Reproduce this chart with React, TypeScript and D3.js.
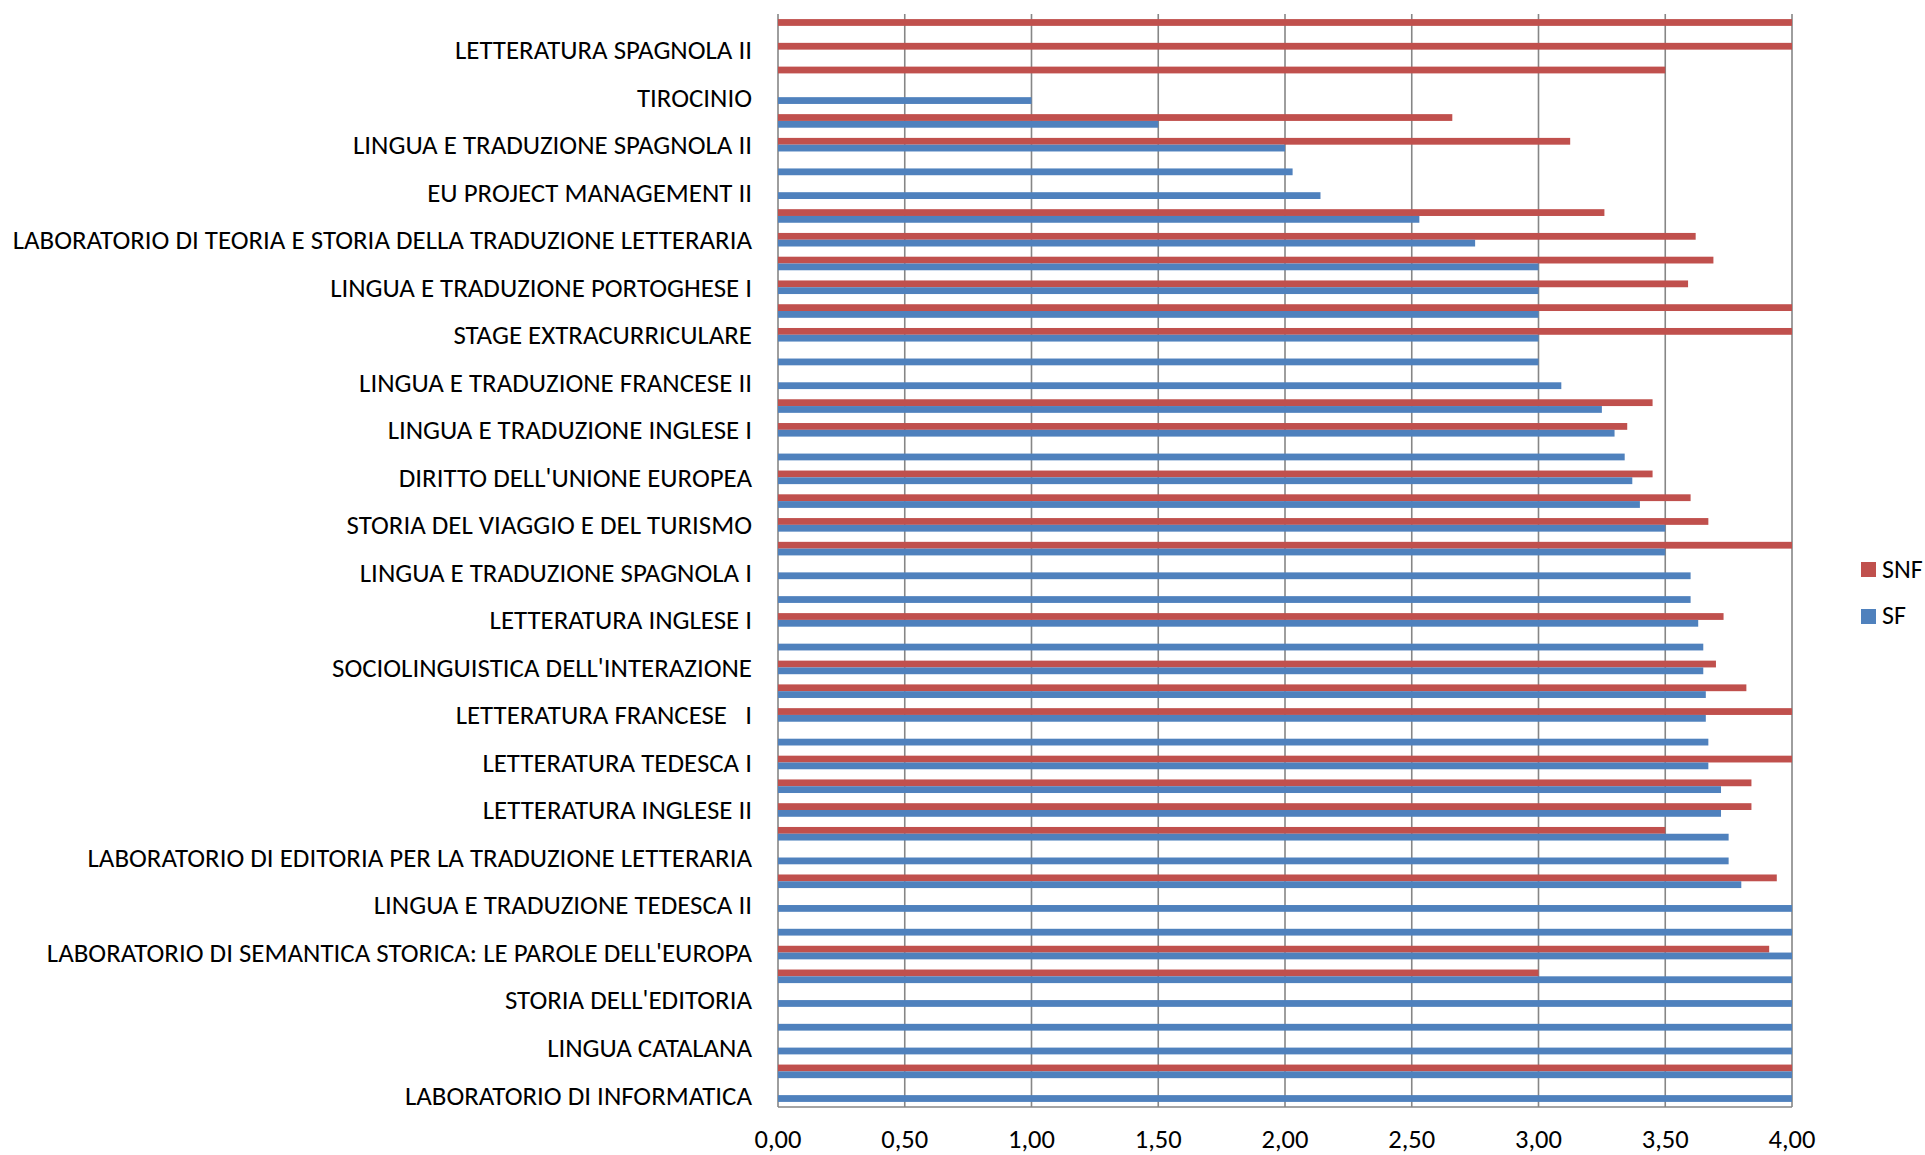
import React from "react";
import * as d3 from "d3";

// Categories from bottom (index 0) to top (index 45). Only every other label is shown in the
// reference (Excel skips labels); unreadable ones are left empty.
const categories: string[] = [
  "LABORATORIO DI INFORMATICA", "",
  "LINGUA CATALANA", "",
  "STORIA DELL'EDITORIA", "",
  "LABORATORIO DI SEMANTICA STORICA: LE PAROLE DELL'EUROPA", "",
  "LINGUA E TRADUZIONE TEDESCA II", "",
  "LABORATORIO DI EDITORIA PER LA TRADUZIONE LETTERARIA", "",
  "LETTERATURA INGLESE II", "",
  "LETTERATURA TEDESCA I", "",
  "LETTERATURA FRANCESE   I", "",
  "SOCIOLINGUISTICA DELL'INTERAZIONE", "",
  "LETTERATURA INGLESE I", "",
  "LINGUA E TRADUZIONE SPAGNOLA I", "",
  "STORIA DEL VIAGGIO E DEL TURISMO", "",
  "DIRITTO DELL'UNIONE EUROPEA", "",
  "LINGUA E TRADUZIONE INGLESE I", "",
  "LINGUA E TRADUZIONE FRANCESE II", "",
  "STAGE EXTRACURRICULARE", "",
  "LINGUA E TRADUZIONE PORTOGHESE I", "",
  "LABORATORIO DI TEORIA E STORIA DELLA TRADUZIONE LETTERARIA", "",
  "EU PROJECT MANAGEMENT II", "",
  "LINGUA E TRADUZIONE SPAGNOLA II", "",
  "TIROCINIO", "",
  "LETTERATURA SPAGNOLA II", "",
];

const sfValues: (number | null)[] = [
  4, 4, 4, 4, 4, 4, 4, 4, 4, 3.8,
  3.75, 3.75, 3.72, 3.72, 3.67, 3.67, 3.66, 3.66, 3.65, 3.65,
  3.63, 3.6, 3.6, 3.5, 3.5, 3.4, 3.37, 3.34, 3.3, 3.25,
  3.09, 3.0, 3.0, 3.0, 3.0, 3.0, 2.75, 2.53, 2.14, 2.03,
  2.0, 1.5, 1.0, null, null, null,
];

const snfValues: (number | null)[] = [
  null, 4, null, null, null, 3.0, 3.91, null, null, 3.94,
  null, 3.5, 3.84, 3.84, 4, null, 4, 3.82, 3.7, null,
  3.73, null, null, 4, 3.67, 3.6, 3.45, null, 3.35, 3.45,
  null, null, 4, 4, 3.59, 3.69, 3.62, 3.26, null, null,
  3.125, 2.66, null, 3.5, 4, 4,
];

const seriesNames = ["SNF", "SF"];
const seriesColors = ["#C0504D", "#4F81BD"];
const xTicks = [0, 0.5, 1, 1.5, 2, 2.5, 3, 3.5, 4];

const W = 1925;
const H = 1155;
const FONT = "Carlito, 'Liberation Sans Narrow', 'DejaVu Sans Condensed', 'Open Sans', sans-serif";

export default function App() {
  const left = 778, right = 1792, top = 14, bottom = 1107;
  const x = d3.scaleLinear().domain([0, 4]).range([left, right]);
  const idx = d3.range(categories.length).reverse();
  const gap = 1.5 / 3.5;
  const y = d3.scaleBand<number>().domain(idx).range([top, bottom]).paddingInner(gap).paddingOuter(gap / 2);
  const sub = d3.scaleBand<string>().domain(seriesNames).range([0, y.bandwidth()]);
  const seriesData = [snfValues, sfValues];
  const fmt = (v: number) => v.toFixed(2).replace(".", ",");
  const gridColor = "#868686";

  return (
    <>
      <style>{`body{margin:0}`}</style>
      <svg width={W} height={H} style={{ display: "block", background: "#fff" }} fontFamily={FONT}>
        {/* gridlines */}
        {xTicks.map((t) => (
          <line key={"g" + t} x1={x(t)} x2={x(t)} y1={top} y2={bottom} stroke={gridColor} strokeWidth={1.6} />
        ))}
        <line x1={left} x2={right} y1={bottom} y2={bottom} stroke={gridColor} strokeWidth={1.6} />
        {/* bars */}
        {seriesData.map((vals, si) =>
          vals.map((v, i) =>
            v == null ? null : (
              <rect
                key={si + "-" + i}
                x={x(0)}
                y={(y(i) as number) + (sub(seriesNames[si]) as number)}
                width={x(v) - x(0)}
                height={sub.bandwidth()}
                fill={seriesColors[si]}
              />
            )
          )
        )}
        {/* category labels */}
        {categories.map((c, i) =>
          c ? (
            <text
              key={"c" + i}
              x={752}
              y={(y(i) as number) + y.bandwidth() / 2}
              dy="0.35em"
              textAnchor="end"
              fontSize={26.9}
              fill="#000"
              style={{ whiteSpace: "pre" }}
            >
              {c}
            </text>
          ) : null
        )}
        {/* x tick labels */}
        {xTicks.map((t) => (
          <text key={"t" + t} x={x(t)} y={1148} textAnchor="middle" fontSize={26.5} fill="#000">
            {fmt(t)}
          </text>
        ))}
        {/* legend */}
        {seriesNames.map((s, i) => (
          <g key={"l" + s}>
            <rect x={1861} y={562 + i * 47} width={15} height={15} fill={seriesColors[i]} />
            <text x={1882} y={578 + i * 46} fontSize={26} fill="#000">
              {s}
            </text>
          </g>
        ))}
      </svg>
    </>
  );
}
